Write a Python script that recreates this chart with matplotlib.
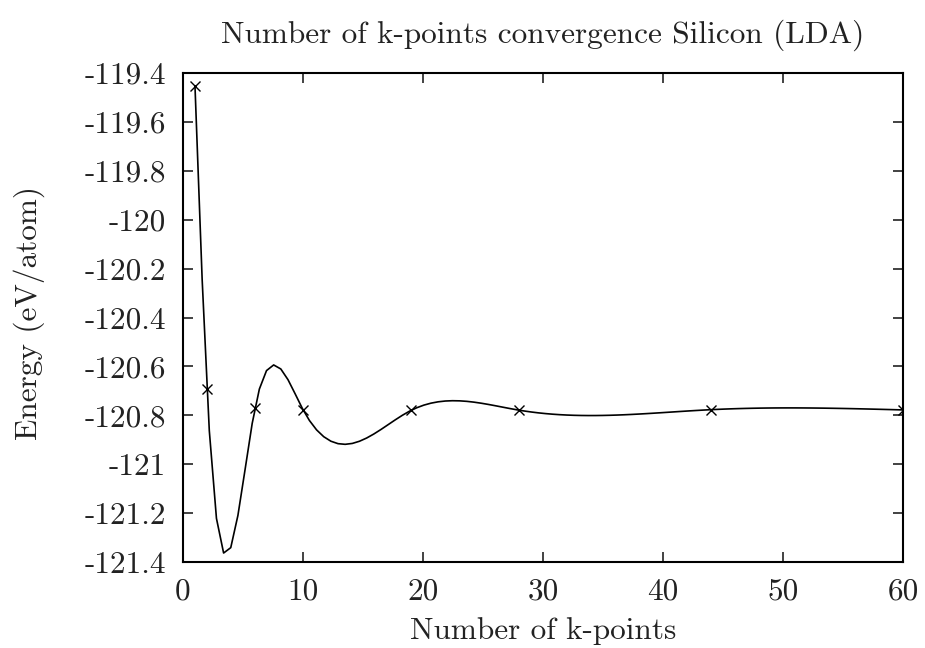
import matplotlib
matplotlib.use("Agg")
import matplotlib.pyplot as plt
import numpy as np

# k-point convergence test, silicon, LDA
kpoints = [1, 2, 6, 10, 19, 28, 44, 60]
energy = [-119.455, -120.692, -120.770, -120.777, -120.780, -120.779, -120.777, -120.778]

yticks = [-121.4, -121.2, -121.0, -120.8, -120.6, -120.4, -120.2, -120.0,
          -119.8, -119.6, -119.4]
ylabels = ["-121.4", "-121.2", "-121", "-120.8", "-120.6", "-120.4", "-120.2",
           "-120", "-119.8", "-119.6", "-119.4"]
xticks = [0, 10, 20, 30, 40, 50, 60]


def natural_spline(x, y, xs):
    # natural cubic spline, same as gnuplot's "smooth csplines"
    x = np.asarray(x, float)
    y = np.asarray(y, float)
    n = len(x)
    h = np.diff(x)
    A = np.zeros((n, n))
    b = np.zeros(n)
    A[0, 0] = A[-1, -1] = 1.0
    for i in range(1, n - 1):
        A[i, i - 1] = h[i - 1]
        A[i, i] = 2 * (h[i - 1] + h[i])
        A[i, i + 1] = h[i]
        b[i] = 6 * ((y[i + 1] - y[i]) / h[i] - (y[i] - y[i - 1]) / h[i - 1])
    M = np.linalg.solve(A, b)
    idx = np.clip(np.searchsorted(x, xs) - 1, 0, n - 2)
    x0, x1 = x[idx], x[idx + 1]
    hh = x1 - x0
    t0, t1 = x1 - xs, xs - x0
    return (M[idx] * t0**3 / (6 * hh) + M[idx + 1] * t1**3 / (6 * hh)
            + (y[idx] / hh - M[idx] * hh / 6) * t0
            + (y[idx + 1] / hh - M[idx + 1] * hh / 6) * t1)


plt.rcParams["font.family"] = ["cmr10", "DejaVu Serif"]
plt.rcParams["axes.unicode_minus"] = False
plt.rcParams["axes.formatter.use_mathtext"] = True

W, H = 925, 648
fig = plt.figure(figsize=(W / 100, H / 100), dpi=100)
ax = fig.add_axes([183 / W, 1 - 562 / H, 720 / W, 489 / H])

xs = np.linspace(min(kpoints), max(kpoints), 100)
ax.plot(xs, natural_spline(kpoints, energy, xs), color="black", lw=1.2)
ax.plot(kpoints, energy, linestyle="none", marker="x", color="black",
        markersize=7, markeredgewidth=1.0)

ax.set_xlim(0, 60)
ax.set_ylim(-121.4, -119.4)
ax.set_xticks(xticks)
ax.set_xticklabels([str(v) for v in xticks])
ax.set_yticks(yticks)
ax.set_yticklabels(ylabels)
ax.tick_params(direction="in", length=7, width=1.2, top=True, right=True,
               labelsize=22.5, colors="#222222")
ax.tick_params(axis="x", pad=11)
ax.tick_params(axis="y", pad=12)
for s in ax.spines.values():
    s.set_linewidth(1.5)

fig.text(543 / W, 1 - 35 / H, "Number of k-points convergence Silicon (LDA)",
         fontsize=22.5, ha="center", va="center", color="#222222")
fig.text(543 / W, 1 - 631 / H, "Number of k-points",
         fontsize=22.5, ha="center", va="center", color="#222222")
fig.text(29 / W, 1 - 313 / H, "Energy (eV/atom)", rotation=90,
         fontsize=22.5, ha="center", va="center", color="#222222")

fig.savefig("out.png", dpi=100)
